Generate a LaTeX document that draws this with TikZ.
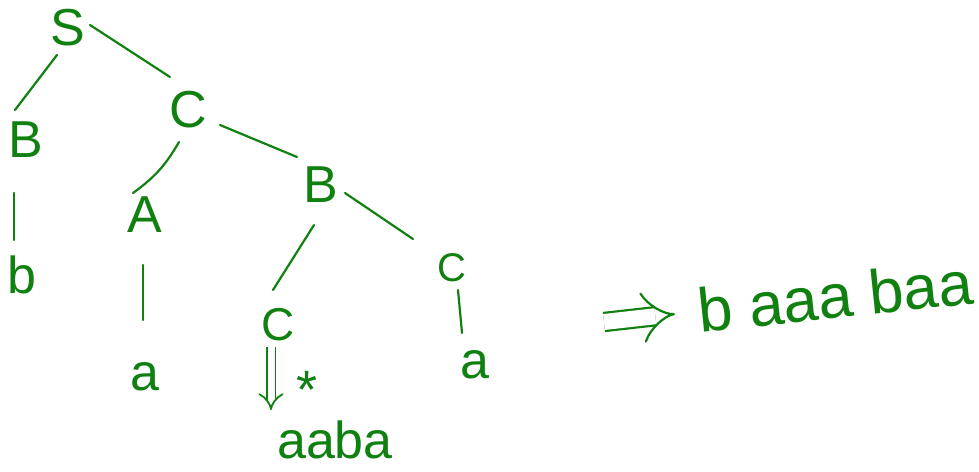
\documentclass[tikz,border=0pt]{standalone}
\usepackage{fontspec}
\setmainfont{Liberation Sans}
\usetikzlibrary{arrows.meta}
\definecolor{ink}{RGB}{16,128,16}
\tikzset{
  sym/.style={text=ink, font=\fontsize{52}{52}\selectfont, inner sep=0pt},
  edge/.style={draw=ink, line width=2.2pt, line cap=round},
  derive/.style={draw=ink, line width=1.8pt, double distance=7pt, -{Implies[length=10pt]}, line cap=butt},
  bigderive/.style={draw=ink, line width=2.2pt, double distance=16pt, -{Implies[length=20pt]}, line cap=butt}
}
\begin{document}
\begin{tikzpicture}[x=1pt,y=-1pt]
\useasboundingbox (0,0) rectangle (979,471);
\node[sym] (S) at (68,28) {S};
\node[sym] (B1) at (26,140) {B};
\node[sym] (C1) at (188,110) {C};
\node[sym] (b1) at (22,275) {b};
\node[sym] (A) at (145,215) {A};
\node[sym] (B2) at (321,185) {B};
\node[sym] (a1) at (145,377) {a};
\node[sym, font=\fontsize{46}{46}\selectfont] (C2) at (278,325) {C};
\node[sym, font=\fontsize{40}{40}\selectfont] (C3) at (452,268) {C};
\node[sym] (a2) at (475,365) {a};
\node[sym] (w) at (335,440) {aaba};
\node[sym, font=\fontsize{54}{54}\selectfont] (star) at (307,390) {*};
\node[sym, font=\fontsize{62}{62}\selectfont, rotate=6] (res) at (835,296) {b aaa baa};
\coordinate (arrs) at (604,322);

\draw[edge] ([shift={(-11,27)}]S.center) -- ([shift={(-11,-30)}]B1.center);
\draw[edge] ([shift={(22,-3)}]S.center) -- ([shift={(-18,-33)}]C1.center);
\draw[edge] ([shift={(-9,32)}]C1.center) to[bend left=12] ([shift={(-12,-22)}]A.center);
\draw[edge] ([shift={(32,15)}]C1.center) -- ([shift={(-24,-28)}]B2.center);
\draw[edge] ([shift={(-12,53)}]B1.center) -- ([shift={(-8,-35)}]b1.center);
\draw[edge] ([shift={(-2,50)}]A.center) -- ([shift={(-2,-57)}]a1.center);
\draw[edge] ([shift={(-7,40)}]B2.center) -- ([shift={(-5,-35)}]C2.center);
\draw[edge] ([shift={(24,8)}]B2.center) -- ([shift={(-39,-29)}]C3.center);
\draw[edge] ([shift={(6,22)}]C3.center) -- ([shift={(-13,-32)}]a2.center);
\draw[derive] ([shift={(-7,22)}]C2.center) -- ([shift={(-64,-30)}]w.center);
\draw[bigderive] (arrs) -- ([shift={(-160,18)}]res.center);
\end{tikzpicture}
\end{document}
